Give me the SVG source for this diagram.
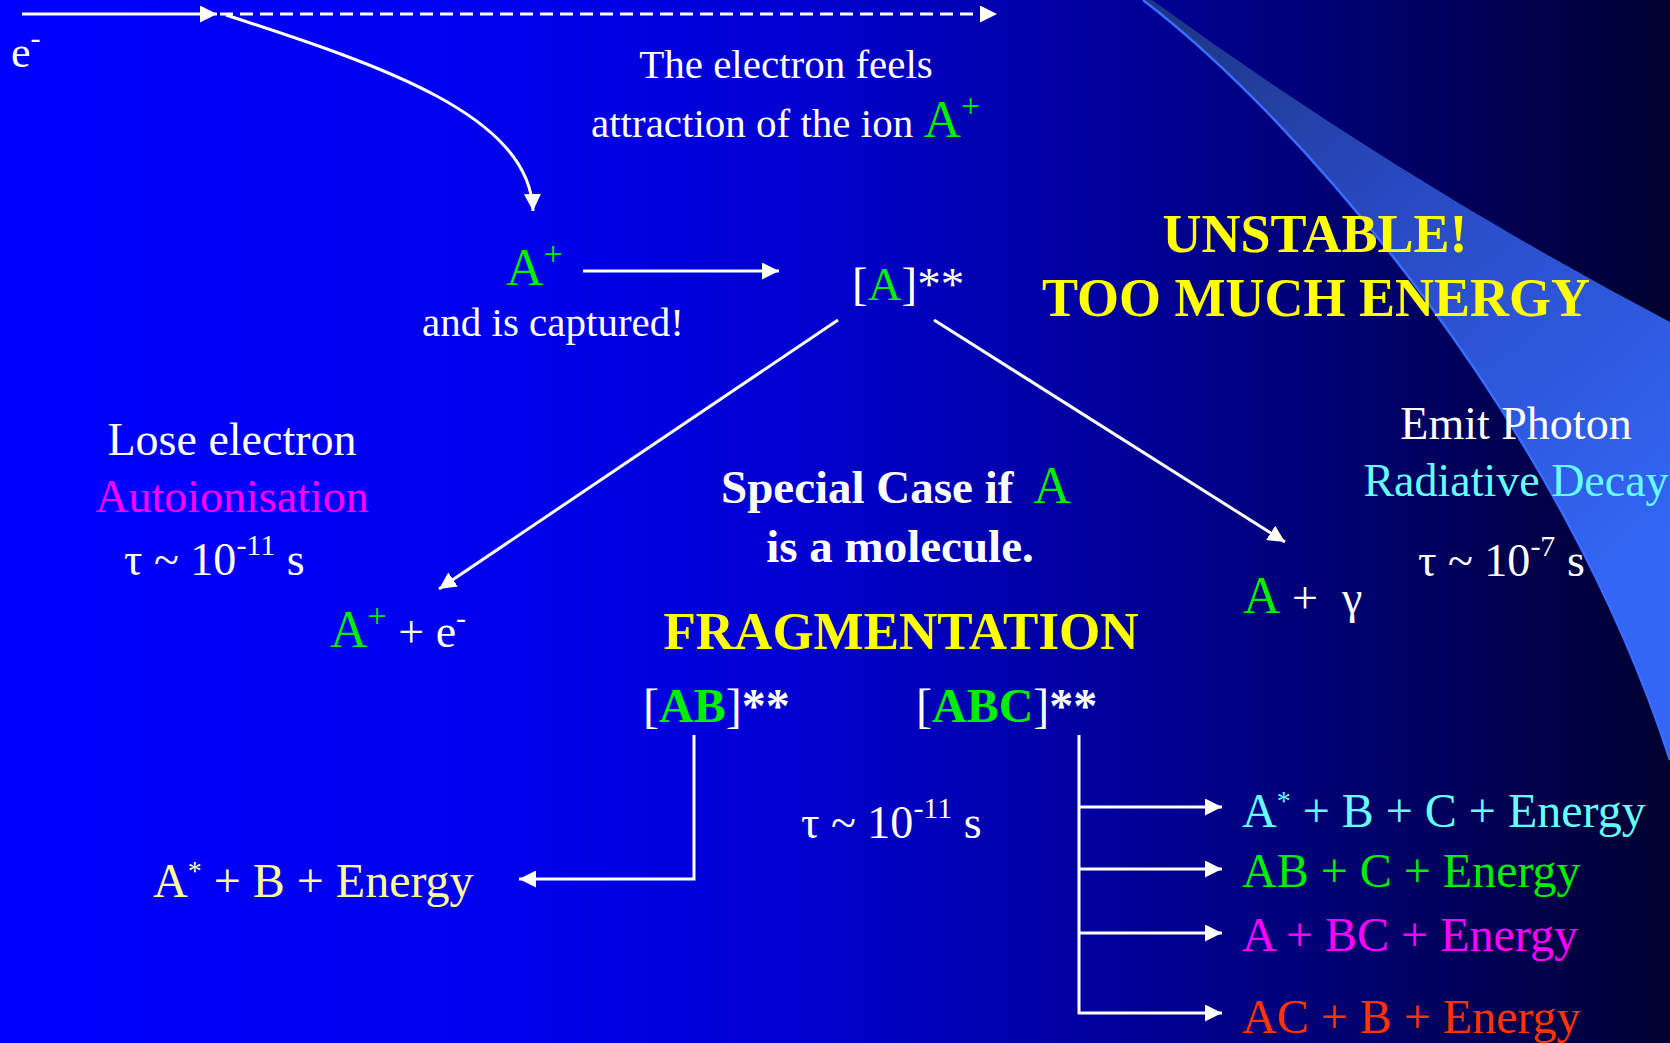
<svg xmlns="http://www.w3.org/2000/svg" width="1670" height="1043" viewBox="0 0 1670 1043">
<style>
text { font-family: "Liberation Serif", "Times New Roman", serif; fill: #ffffff; }
.s41 { font-size: 41px; }
.s46 { font-size: 46px; }
.s48 { font-size: 48px; }
.b { font-weight: bold; }
.g { fill: #00ee00; }
.y { fill: #ffff00; }
.py { fill: #ffff99; }
.m { fill: #ff00ff; }
.c { fill: #66ffff; }
.r { fill: #ff3300; }
.bigA { font-size: 52px; font-weight: normal; }
.sup { font-size: 30px; }
.star { font-size: 28px; }
.plus { font-size: 34px; }
.ln { stroke: #ffffff; stroke-width: 3; fill: none; }
.arr { marker-end: url(#ah); }
</style>
<defs>
<linearGradient id="bg" x1="0" y1="0" x2="1" y2="0">
<stop offset="0" stop-color="#0000ff"/>
<stop offset="0.3" stop-color="#0000ee"/>
<stop offset="0.48" stop-color="#0000d0"/>
<stop offset="0.67" stop-color="#00009a"/>
<stop offset="0.85" stop-color="#000062"/>
<stop offset="1" stop-color="#000030"/>
</linearGradient>
<linearGradient id="sw" gradientUnits="userSpaceOnUse" x1="1150" y1="0" x2="1640" y2="560">
<stop offset="0" stop-color="#1c3580"/>
<stop offset="0.4" stop-color="#2848c0"/>
<stop offset="1" stop-color="#3366f5"/>
</linearGradient>
<marker id="ah" markerUnits="userSpaceOnUse" markerWidth="17" markerHeight="17" refX="16" refY="8" orient="auto" viewBox="0 0 16 16">
<path d="M0,0 L16,8 L0,16 Z" fill="#ffffff"/>
</marker>
</defs>

<rect x="0" y="0" width="1670" height="1043" fill="url(#bg)"/>
<g id="swoosh">
<path d="M1143,0 C1300,120 1560,420 1670,760 L1670,322 Q1400,180 1152,0 Z" fill="url(#sw)"/>
<path d="M1143,0 C1300,120 1560,420 1670,760" fill="none" stroke="#3a6cff" stroke-width="2.5"/>
</g>

<g id="connectors">
<line class="ln arr" x1="22" y1="14" x2="217" y2="14"/>
<line class="ln arr" x1="220" y1="14" x2="997" y2="14" stroke-dasharray="13 7"/>
<path class="ln arr" d="M226,15 C380,65 530,115 533,211"/>
<line class="ln arr" x1="583" y1="271" x2="779" y2="271"/>
<line class="ln arr" x1="838" y1="320" x2="439" y2="589"/>
<line class="ln arr" x1="934" y1="320" x2="1285" y2="542"/>
<polyline class="ln arr" points="694,735 694,879 519,879"/>
<line class="ln" x1="1079" y1="735" x2="1079" y2="1014"/>
<line class="ln arr" x1="1078" y1="807" x2="1222" y2="807"/>
<line class="ln arr" x1="1078" y1="869" x2="1222" y2="869"/>
<line class="ln arr" x1="1078" y1="933" x2="1222" y2="933"/>
<line class="ln arr" x1="1078" y1="1013" x2="1222" y2="1013"/>
</g>

<g id="electron">
<text x="11" y="67" font-size="44">e<tspan class="sup" dy="-19">-</tspan></text>
</g>

<g id="attraction">
<text class="s41" x="786" y="78" text-anchor="middle">The electron feels</text>
<text class="s41" x="591" y="137">attraction of the ion <tspan class="g bigA">A</tspan><tspan class="g plus" dy="-20">+</tspan></text>
</g>

<g id="ion">
<text x="506" y="285"><tspan class="g bigA">A</tspan><tspan class="g plus" dy="-20">+</tspan></text>
<text class="s41" x="553" y="336" text-anchor="middle">and is captured!</text>
</g>

<g id="excited">
<text x="852" y="300" font-size="47">[<tspan class="g">A</tspan>]**</text>
</g>

<g id="unstable">
<text class="b y" font-size="54" x="1315" y="252" text-anchor="middle">UNSTABLE!</text>
<text class="b y" font-size="54" x="1316" y="316" text-anchor="middle">TOO MUCH ENERGY</text>
</g>

<g id="autoionisation">
<text class="s46" x="232" y="455" text-anchor="middle">Lose electron</text>
<text class="s46 m" x="232" y="512" text-anchor="middle">Autoionisation</text>
<text class="s46" x="124" y="575">τ ~ 10<tspan class="sup" dy="-20">-11</tspan><tspan dy="20"> s</tspan></text>
</g>

<g id="ionised">
<text class="s46" x="330" y="647"><tspan class="g bigA">A</tspan><tspan class="g plus" dy="-20">+</tspan><tspan dy="20"> + e</tspan><tspan class="sup" dy="-19">-</tspan></text>
</g>

<g id="special">
<text class="b" font-size="47" x="721" y="503">Special Case if <tspan class="g bigA" dx="8">A</tspan></text>
<text class="b" font-size="47" x="900" y="562" text-anchor="middle">is a molecule.</text>
<text class="b y" font-size="53" x="901" y="649" text-anchor="middle">FRAGMENTATION</text>
</g>

<g id="AB">
<text font-size="48" x="643" y="722">[<tspan class="g b">AB</tspan>]<tspan class="b">**</tspan></text>
</g>

<g id="ABC">
<text font-size="48" x="916" y="722">[<tspan class="g b">ABC</tspan>]<tspan class="b">**</tspan></text>
</g>

<g id="tau-frag">
<text class="s46" x="801" y="838">τ ~ 10<tspan class="sup" dy="-20">-11</tspan><tspan dy="20"> s</tspan></text>
</g>

<g id="AB-product">
<text class="s48 py" x="153" y="897">A<tspan class="star" dy="-17">*</tspan><tspan dy="17"> + B + Energy</tspan></text>
</g>

<g id="ABC-products">
<text class="s48 c" x="1242" y="827">A<tspan class="star" dy="-17">*</tspan><tspan dy="17"> + B + C + Energy</tspan></text>
<text class="s48 g" x="1242" y="887">AB + C + Energy</text>
<text class="s48 m" x="1242" y="951">A + BC + Energy</text>
<text class="s48 r" x="1242" y="1033">AC + B + Energy</text>
</g>

<g id="radiative">
<text class="s46" x="1516" y="439" text-anchor="middle">Emit Photon</text>
<text class="s46 c" x="1516" y="496" text-anchor="middle">Radiative Decay</text>
<text class="s46" x="1418" y="576">τ ~ 10<tspan class="sup" dy="-20">-7</tspan><tspan dy="20"> s</tspan></text>
</g>

<g id="photon">
<text class="s46" x="1243" y="613"><tspan class="g bigA">A</tspan> +<tspan dx="24">γ</tspan></text>
</g>
</svg>
